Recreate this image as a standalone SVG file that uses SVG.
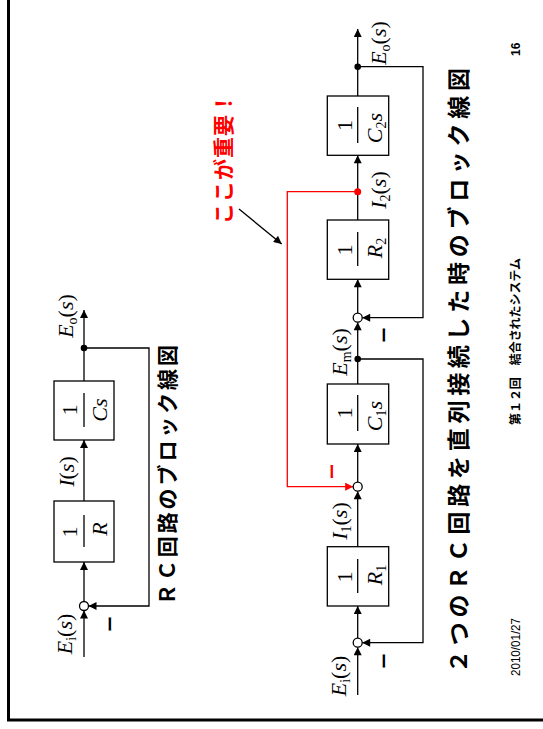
<svg xmlns="http://www.w3.org/2000/svg" width="543" height="729" viewBox="0 0 543 729">
<style>
.ln{fill:none;stroke:#000;stroke-width:1.3}
.rd{fill:none;stroke:#f00;stroke-width:1.3}
.bx{fill:#fff;stroke:#000;stroke-width:1.3}
.sj{fill:#fff;stroke:#000;stroke-width:1.3}
.m{font-family:"Liberation Serif",serif;font-size:22px;fill:#000}
.i{font-style:italic}
.jp{font-family:"Noto Sans CJK JP",sans-serif;font-weight:bold;fill:#000}
.ft{font-family:"Liberation Sans","Noto Sans CJK JP",sans-serif;font-size:12px;fill:#000}
</style>
<defs>
<marker id="ah" viewBox="0 0 10 10" refX="10" refY="5" markerWidth="9" markerHeight="8" markerUnits="userSpaceOnUse" orient="auto"><path d="M0,0 L10,5 L0,10 z" fill="#000"/></marker>
<marker id="ahr" viewBox="0 0 10 10" refX="10" refY="5" markerWidth="9" markerHeight="8" markerUnits="userSpaceOnUse" orient="auto"><path d="M0,0 L10,5 L0,10 z" fill="#f00"/></marker>
</defs>
<rect width="543" height="729" fill="#fff"/>
<g id="frame"><path d="M8.5,0 V720 H543" fill="none" stroke="#000" stroke-width="3"/></g>

<g id="connectors">
<path class="ln" d="M84,657 V610.5" marker-end="url(#ah)"/>
<path class="ln" d="M84,601.5 V562" marker-end="url(#ah)"/>
<path class="ln" d="M84,501 V440" marker-end="url(#ah)"/>
<path class="ln" d="M84,381 V310" marker-end="url(#ah)"/>
<path class="ln" d="M84,348 H149 V606 H88.5" marker-end="url(#ah)"/>
<path class="ln" d="M357.7,695 V647.2" marker-end="url(#ah)"/>
<path class="ln" d="M357.7,638.2 V606" marker-end="url(#ah)"/>
<path class="ln" d="M357.7,546.7 V491.2" marker-end="url(#ah)"/>
<path class="ln" d="M357.7,482.2 V444" marker-end="url(#ah)"/>
<path class="ln" d="M357.7,384 V322.2" marker-end="url(#ah)"/>
<path class="ln" d="M357.7,313.2 V279.3" marker-end="url(#ah)"/>
<path class="ln" d="M357.7,220 V155.3" marker-end="url(#ah)"/>
<path class="ln" d="M357.7,96 V29" marker-end="url(#ah)"/>
<path class="ln" d="M357.7,359 H423 V642.7 H362.2" marker-end="url(#ah)"/>
<path class="ln" d="M357.7,66.7 H423 V317.7 H362.2" marker-end="url(#ah)"/>
<path class="rd" d="M357.7,191.7 H287.3 V486.7 H353.2" marker-end="url(#ahr)"/>
<path class="ln" d="M239,209 L281.7,244" marker-end="url(#ah)"/>
</g>

<g id="sum1"><circle class="sj" cx="84" cy="606" r="4.5"/>
<text class="jp" font-size="16" transform="rotate(-90 116 624)" x="116" y="624" text-anchor="middle">ー</text></g>
<g id="blkR"><rect class="bx" x="54" y="501" width="60" height="61"/>
<text class="m" transform="rotate(-90 77 532)" x="77" y="532" text-anchor="middle">1</text>
<line class="ln" x1="84" y1="515" x2="84" y2="547"/>
<text class="m i" transform="rotate(-90 107 529)" x="107" y="529" text-anchor="middle">R</text></g>
<g id="blkC"><rect class="bx" x="54" y="381" width="60" height="59"/>
<text class="m" transform="rotate(-90 77 410)" x="77" y="410" text-anchor="middle">1</text>
<line class="ln" x1="84" y1="393" x2="84" y2="427"/>
<text class="m i" transform="rotate(-90 107 410)" x="107" y="410" text-anchor="middle">Cs</text></g>
<g id="out1"><circle cx="84" cy="348" r="3.3" fill="#000"/></g>
<g id="lbl1">
<text class="m" transform="rotate(-90 72 634)" x="72" y="634" text-anchor="middle"><tspan class="i">E</tspan><tspan font-size="14" dy="4">i</tspan><tspan dy="-4">(</tspan><tspan class="i">s</tspan>)</text>
<text class="m" transform="rotate(-90 74 471.5)" x="74" y="471.5" text-anchor="middle"><tspan class="i">I</tspan>(<tspan class="i">s</tspan>)</text>
<text class="m" transform="rotate(-90 73 316)" x="73" y="316" text-anchor="middle"><tspan class="i">E</tspan><tspan font-size="14" dy="4">o</tspan><tspan dy="-4">(</tspan><tspan class="i">s</tspan>)</text>
</g>
<g id="title1"><text class="jp" font-size="21" transform="rotate(-90 175 605)" x="175" y="605" textLength="260" lengthAdjust="spacing">ＲＣ回路のブロック線図</text></g>

<g id="sumA"><circle class="sj" cx="357.7" cy="642.7" r="4.5"/>
<text class="jp" font-size="16" transform="rotate(-90 390 661)" x="390" y="661" text-anchor="middle">ー</text></g>
<g id="blkR1"><rect class="bx" x="327.3" y="546.7" width="61.4" height="59.3"/>
<text class="m" transform="rotate(-90 352 577)" x="352" y="577" text-anchor="middle">1</text>
<line class="ln" x1="357.7" y1="559" x2="357.7" y2="593"/>
<text class="m" transform="rotate(-90 382 575)" x="382" y="575" text-anchor="middle"><tspan class="i">R</tspan><tspan font-size="14" dy="4">1</tspan></text></g>
<g id="sumB"><circle class="sj" cx="357.7" cy="486.7" r="4.5"/>
<text class="jp" font-size="16" style="fill:#f00" transform="rotate(-90 338 471.5)" x="338" y="471.5" text-anchor="middle">ー</text></g>
<g id="blkC1"><rect class="bx" x="327.3" y="384" width="61.4" height="60"/>
<text class="m" transform="rotate(-90 352 413)" x="352" y="413" text-anchor="middle">1</text>
<line class="ln" x1="357.7" y1="395" x2="357.7" y2="431"/>
<text class="m" transform="rotate(-90 382 416)" x="382" y="416" text-anchor="middle"><tspan class="i">C</tspan><tspan font-size="14" dy="4">1</tspan><tspan class="i" dy="-4">s</tspan></text></g>
<g id="nodeEm"><circle cx="357.7" cy="359" r="3.3" fill="#000"/></g>
<g id="sumC"><circle class="sj" cx="357.7" cy="317.7" r="4.5"/>
<text class="jp" font-size="16" transform="rotate(-90 390 335)" x="390" y="335" text-anchor="middle">ー</text></g>
<g id="blkR2"><rect class="bx" x="327.3" y="220" width="61.4" height="59.3"/>
<text class="m" transform="rotate(-90 352 250)" x="352" y="250" text-anchor="middle">1</text>
<line class="ln" x1="357.7" y1="232" x2="357.7" y2="266"/>
<text class="m" transform="rotate(-90 382 248)" x="382" y="248" text-anchor="middle"><tspan class="i">R</tspan><tspan font-size="14" dy="4">2</tspan></text></g>
<g id="nodeI2"><circle cx="357.7" cy="191.7" r="3.5" fill="#f00"/></g>
<g id="blkC2"><rect class="bx" x="327.3" y="96" width="61.4" height="59.3"/>
<text class="m" transform="rotate(-90 352 125.6)" x="352" y="125.6" text-anchor="middle">1</text>
<line class="ln" x1="357.7" y1="107" x2="357.7" y2="143"/>
<text class="m" transform="rotate(-90 382 128)" x="382" y="128" text-anchor="middle"><tspan class="i">C</tspan><tspan font-size="14" dy="4">2</tspan><tspan class="i" dy="-4">s</tspan></text></g>
<g id="nodeEo"><circle cx="357.7" cy="66.7" r="3.3" fill="#000"/></g>
<g id="lbl2">
<text class="m" transform="rotate(-90 346 676)" x="346" y="676" text-anchor="middle"><tspan class="i">E</tspan><tspan font-size="14" dy="4">i</tspan><tspan dy="-4">(</tspan><tspan class="i">s</tspan>)</text>
<text class="m" transform="rotate(-90 347 521)" x="347" y="521" text-anchor="middle"><tspan class="i">I</tspan><tspan font-size="14" dy="4">1</tspan><tspan dy="-4">(</tspan><tspan class="i">s</tspan>)</text>
<text class="m" transform="rotate(-90 347 352)" x="347" y="352" text-anchor="middle"><tspan class="i">E</tspan><tspan font-size="14" dy="4">m</tspan><tspan dy="-4">(</tspan><tspan class="i">s</tspan>)</text>
<text class="m" transform="rotate(-90 386 190)" x="386" y="190" text-anchor="middle"><tspan class="i">I</tspan><tspan font-size="14" dy="4">2</tspan><tspan dy="-4">(</tspan><tspan class="i">s</tspan>)</text>
<text class="m" transform="rotate(-90 386 43)" x="386" y="43" text-anchor="middle"><tspan class="i">E</tspan><tspan font-size="14" dy="4">o</tspan><tspan dy="-4">(</tspan><tspan class="i">s</tspan>)</text>
</g>
<g id="note"><text class="jp" font-size="21" style="fill:#f00" transform="rotate(-90 231 224)" x="231" y="224" textLength="131" lengthAdjust="spacing">ここが重要！</text></g>
<g id="title2"><text class="jp" font-size="23" transform="rotate(-90 467 673)" x="467" y="673" textLength="605" lengthAdjust="spacing">２つのＲＣ回路を直列接続した時のブロック線図</text></g>
<g id="footer">
<text class="ft" transform="rotate(-90 520 676)" x="520" y="676" textLength="58" lengthAdjust="spacingAndGlyphs">2010/01/27</text>
<text class="ft" font-weight="bold" transform="rotate(-90 520 425)" x="520" y="425" textLength="167" lengthAdjust="spacing">第１２回　結合されたシステム</text>
<text class="ft" font-weight="bold" transform="rotate(-90 520 56)" x="520" y="56">16</text>
</g>
</svg>
